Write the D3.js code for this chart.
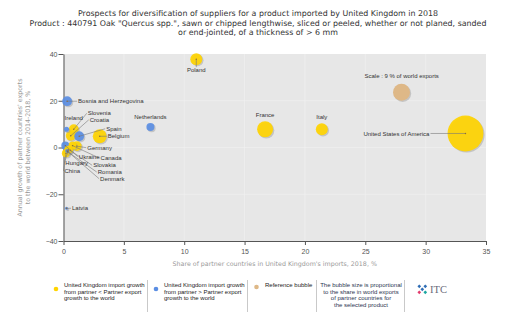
<!DOCTYPE html>
<html>
<head>
<meta charset="utf-8">
<script src="https://cdn.jsdelivr.net/npm/d3@7"></script>
<style>
  body { margin: 0; background: #fff; }
  svg text { font-family: "Liberation Sans", Arial, sans-serif; }
</style>
</head>
<body>
<div id="chart"></div>
<script>
// partner countries: share of UK imports (%), growth of exports to world (%), share in world exports (%)
var countries = ["United States of America", "France", "Belgium", "Poland", "Italy", "Bosnia and Herzegovina",
    "Slovenia", "Croatia", "Spain", "Germany", "Netherlands", "Ukraine", "Canada", "Hungary", "China",
    "Slovakia", "Romania", "Ireland", "Denmark", "Latvia"];
var importShare = [33.3, 16.7, 3.0, 11.0, 21.4, 0.3, 0.85, 0.6, 1.3, 1.1, 7.2, 0.15, 0.75, 0.4, 0.2, 0.55, 0.35, 0.25, 0.3, 0.25];
var exportGrowth = [6.0, 7.8, 4.8, 37.8, 7.8, 19.8, 7.8, 5.0, 4.8, 0.6, 8.8, 0.8, 0.8, -1.0, -2.5, -1.2, -1.8, 7.8, -1.5, -26];
var worldShare = [40, 8, 6, 4.5, 4.5, 3, 3, 3, 3, 3, 2, 2, 2, 2, 2, 1, 1, 0.8, 0.5, 0.3];
// 0 = UK import growth below partner export growth, 1 = above
var growthGroup = [0, 0, 0, 0, 0, 1, 0, 0, 1, 0, 1, 1, 0, 0, 0, 0, 0, 1, 1, 1];

var refBubble = { share: 28.0, growth: 23.6, world: 9 };

var xTicks = [0, 5, 10, 15, 20, 25, 30, 35];
var yTicks = [-40, -20, 0, 20, 40];

// label placement, px offset from bubble centre; line = draw leader
var labelPos = {
    "United States of America": { dx: -36, dy: 0, anchor: "end", line: true },
    "France": { dx: 0, dy: -14, anchor: "middle" },
    "Belgium": { dx: 8, dy: 0, anchor: "start", line: true },
    "Poland": { dx: 0, dy: 11, anchor: "middle", line: true },
    "Italy": { dx: 0, dy: -12, anchor: "middle" },
    "Bosnia and Herzegovina": { dx: 11, dy: 0, anchor: "start", line: true },
    "Slovenia": { dx: 14, dy: -16, anchor: "start", line: true },
    "Croatia": { dx: 19, dy: -16, anchor: "start", line: true },
    "Spain": { dx: 27, dy: -7.5, anchor: "start", line: true },
    "Germany": { dx: 10.5, dy: 1.6, anchor: "start", line: true },
    "Netherlands": { dx: 0, dy: -10, anchor: "middle" },
    "Ukraine": { dx: 13.5, dy: 11, anchor: "start", line: true },
    "Canada": { dx: 28, dy: 12.5, anchor: "start", line: true },
    "Hungary": { dx: -3, dy: 13.5, anchor: "start", line: true },
    "China": { dx: -1.5, dy: 17.7, anchor: "start", line: true },
    "Slovakia": { dx: 23, dy: 15, anchor: "start", line: true },
    "Romania": { dx: 30, dy: 20.3, anchor: "start", line: true },
    "Ireland": { dx: -2, dy: -11.6, anchor: "start" },
    "Denmark": { dx: 33, dy: 27.7, anchor: "start", line: true },
    "Latvia": { dx: 5.5, dy: 0, anchor: "start", line: true }
};

var colors = ["#ffd400", "#5b8ee3"];
var refColor = "#deb887";

var width = 510, height = 322;
var margin = { top: 54, right: 24, bottom: 81, left: 63.5 };
var w = width - margin.left - margin.right,
    h = height - margin.top - margin.bottom;

var svg = d3.select("#chart").append("svg")
    .attr("width", width)
    .attr("height", height);

// title
var title = svg.append("text")
    .attr("x", 258)
    .attr("text-anchor", "middle")
    .style("font-family", "'DejaVu Sans', Verdana, sans-serif")
    .style("font-size", "7.9px")
    .attr("fill", "#333");
["Prospects for diversification of suppliers for a product imported by United Kingdom in 2018",
 "Product : 440791 Oak \"Quercus spp.\", sawn or chipped lengthwise, sliced or peeled, whether or not planed, sanded",
 "or end-jointed, of a thickness of > 6 mm"].forEach(function(t, i){
    title.append("tspan").attr("x", 258).attr("y", 16 + i * 9.5).text(t);
});

var g = svg.append("g")
    .attr("transform", "translate(" + margin.left + "," + margin.top + ")");

var x = d3.scaleLinear().domain([0, 35]).range([0, w]);
var y = d3.scaleLinear().domain([-40, 40]).range([h, 0]);
var r = d3.scaleSqrt().domain([0, 9]).range([0, 8.5]);

g.append("rect")
    .attr("width", w).attr("height", h)
    .attr("fill", "#e7e7e7");

g.selectAll(".vgrid").data(xTicks.slice(1, -1)).enter().append("line")
    .attr("x1", function(d){ return x(d); }).attr("x2", function(d){ return x(d); })
    .attr("y1", 0).attr("y2", h)
    .attr("stroke", "#f1f1f1").attr("stroke-width", 0.6);
g.selectAll(".hgrid").data(yTicks.slice(1, -1)).enter().append("line")
    .attr("y1", function(d){ return y(d); }).attr("y2", function(d){ return y(d); })
    .attr("x1", 0).attr("x2", w)
    .attr("stroke", "#f1f1f1").attr("stroke-width", 0.6);

var xAxis = g.append("g")
    .attr("transform", "translate(0," + h + ")")
    .call(d3.axisBottom(x).tickValues(xTicks).tickSize(4).tickSizeOuter(0));
var yAxis = g.append("g")
    .call(d3.axisLeft(y).tickValues(yTicks).tickSize(5).tickSizeOuter(0));
[xAxis, yAxis].forEach(function(a){
    a.select(".domain").attr("stroke", "#555");
    a.selectAll(".tick line").attr("stroke", "#555");
    a.selectAll(".tick text")
        .attr("fill", "#555")
        .style("font-family", "'Liberation Sans', Arial, sans-serif")
        .style("font-size", "7px");
});
xAxis.selectAll(".tick text").attr("dy", "0.9em");
yAxis.selectAll(".tick text").attr("x", -6).attr("dy", "0.35em");

// axis titles
svg.append("text")
    .attr("x", margin.left + w / 2).attr("y", 266)
    .attr("text-anchor", "middle")
    .style("font-family", "'DejaVu Sans', Verdana, sans-serif")
    .style("font-size", "6.3px")
    .attr("fill", "#999")
    .text("Share of partner countries in United Kingdom's imports, 2018, %");

var yTitle = svg.append("text")
    .attr("transform", "translate(22," + (margin.top + h / 2) + ") rotate(-90)")
    .attr("text-anchor", "middle")
    .style("font-family", "'DejaVu Sans', Verdana, sans-serif")
    .style("font-size", "6.3px")
    .attr("fill", "#999");
yTitle.append("tspan").attr("x", 0).attr("y", 0).text("Annual growth of partner countries' exports");
yTitle.append("tspan").attr("x", 0).attr("y", 8).text("to the world between 2014-2018, %");

// bubbles
var data = countries.map(function(c, i){
    return { name: c, share: importShare[i], growth: exportGrowth[i], world: worldShare[i], group: growthGroup[i] };
});

var lbl = g.append("g");
var bubbles = g.append("g");

data.slice().sort(function(a, b){ return b.world - a.world; }).forEach(function(d){
    var cx = x(d.share), cy = y(d.growth), rr = r(d.world);
    bubbles.append("circle")
        .attr("cx", cx + 1.2).attr("cy", cy + 1.2).attr("r", rr)
        .attr("fill", "#9a9a9a").attr("opacity", 0.45);
    bubbles.append("circle")
        .attr("cx", cx).attr("cy", cy).attr("r", rr)
        .attr("fill", colors[d.group])
        .attr("fill-opacity", 0.92);
});

// reference bubble
(function(){
    var cx = x(refBubble.share), cy = y(refBubble.growth), rr = r(refBubble.world);
    bubbles.append("circle")
        .attr("cx", cx + 1.2).attr("cy", cy + 1.2).attr("r", rr)
        .attr("fill", "#9a9a9a").attr("opacity", 0.45);
    bubbles.append("circle")
        .attr("cx", cx).attr("cy", cy).attr("r", rr)
        .attr("fill", refColor);
    g.append("text")
        .attr("x", cx - 37).attr("y", cy - 16).attr("dy", "0.35em")
        .style("font-size", "6px").attr("fill", "#333")
        .text("Scale : " + refBubble.world + " % of world exports");
})();

// labels and leader lines
var labels = g.append("g");
data.forEach(function(d){
    var p = labelPos[d.name];
    var cx = x(d.share), cy = y(d.growth);
    var lx = cx + p.dx, ly = cy + p.dy;
    if (p.line) {
        var ex = p.anchor == "end" ? lx + 1 : (p.anchor == "start" ? lx - 1 : lx);
        var ey = p.anchor == "middle" ? ly - 3 : ly;
        lbl.append("line")
            .attr("x1", cx).attr("y1", cy).attr("x2", ex).attr("y2", ey)
            .attr("stroke", "#777").attr("stroke-width", 0.6);
        labels.append("circle").attr("cx", cx).attr("cy", cy).attr("r", 0.7).attr("fill", "#8a6a3a");
    }
    labels.append("text")
        .attr("x", lx).attr("y", ly).attr("dy", "0.35em")
        .attr("text-anchor", p.anchor)
        .style("font-size", "6px").attr("fill", "#333")
        .text(d.name);
});
lbl.raise();
labels.raise();

// legend
var legend = svg.append("g").style("font-size", "6px");
function legendText(x0, y0, lines, anchor, color){
    var t = legend.append("text").attr("text-anchor", anchor || "start").attr("fill", color || "#222");
    lines.forEach(function(s, i){
        t.append("tspan").attr("x", x0).attr("y", y0 + i * 6.6).text(s);
    });
}
legend.append("circle").attr("cx", 56).attr("cy", 289).attr("r", 2.3).attr("fill", colors[0]);
legendText(64, 287, ["United Kingdom import growth", "from partner < Partner export", "growth to the world"]);
legend.append("circle").attr("cx", 156).attr("cy", 289).attr("r", 2.3).attr("fill", colors[1]);
legendText(164, 287, ["United Kingdom import growth", "from partner > Partner export", "growth to the world"]);
legend.append("circle").attr("cx", 256.5).attr("cy", 287).attr("r", 2.3).attr("fill", refColor);
legendText(265, 287, ["Reference bubble"]);
legendText(361, 287, ["The bubble size is proportional", "to the share in world exports", "of partner countries for", "the selected product"], "middle", "#2b3550");
[147.5, 247.5, 316.5, 404.5].forEach(function(sx){
    legend.append("line")
        .attr("x1", sx).attr("x2", sx).attr("y1", 280).attr("y2", 312)
        .attr("stroke", "#bbb").attr("stroke-width", 0.8);
});

// ITC logo
var logo = svg.append("g").attr("transform", "translate(422,289)");
[["#2f6db5", -4, -4], ["#2f6db5", 2, -4], ["#e33b6d", -4, 2], ["#1aa6a0", 2, 2], ["#2f6db5", -1, -1]].forEach(function(b){
    logo.append("rect")
        .attr("x", b[1]).attr("y", b[2]).attr("width", 2.6).attr("height", 2.6)
        .attr("transform", "rotate(45," + (b[1] + 1.3) + "," + (b[2] + 1.3) + ")")
        .attr("fill", b[0]);
});
svg.append("text")
    .attr("x", 430).attr("y", 293)
    .style("font-family", "'Liberation Serif', 'DejaVu Serif', serif")
    .style("font-size", "10.5px")
    .attr("fill", "#6b6b7b")
    .text("ITC");
</script>
</body>
</html>
